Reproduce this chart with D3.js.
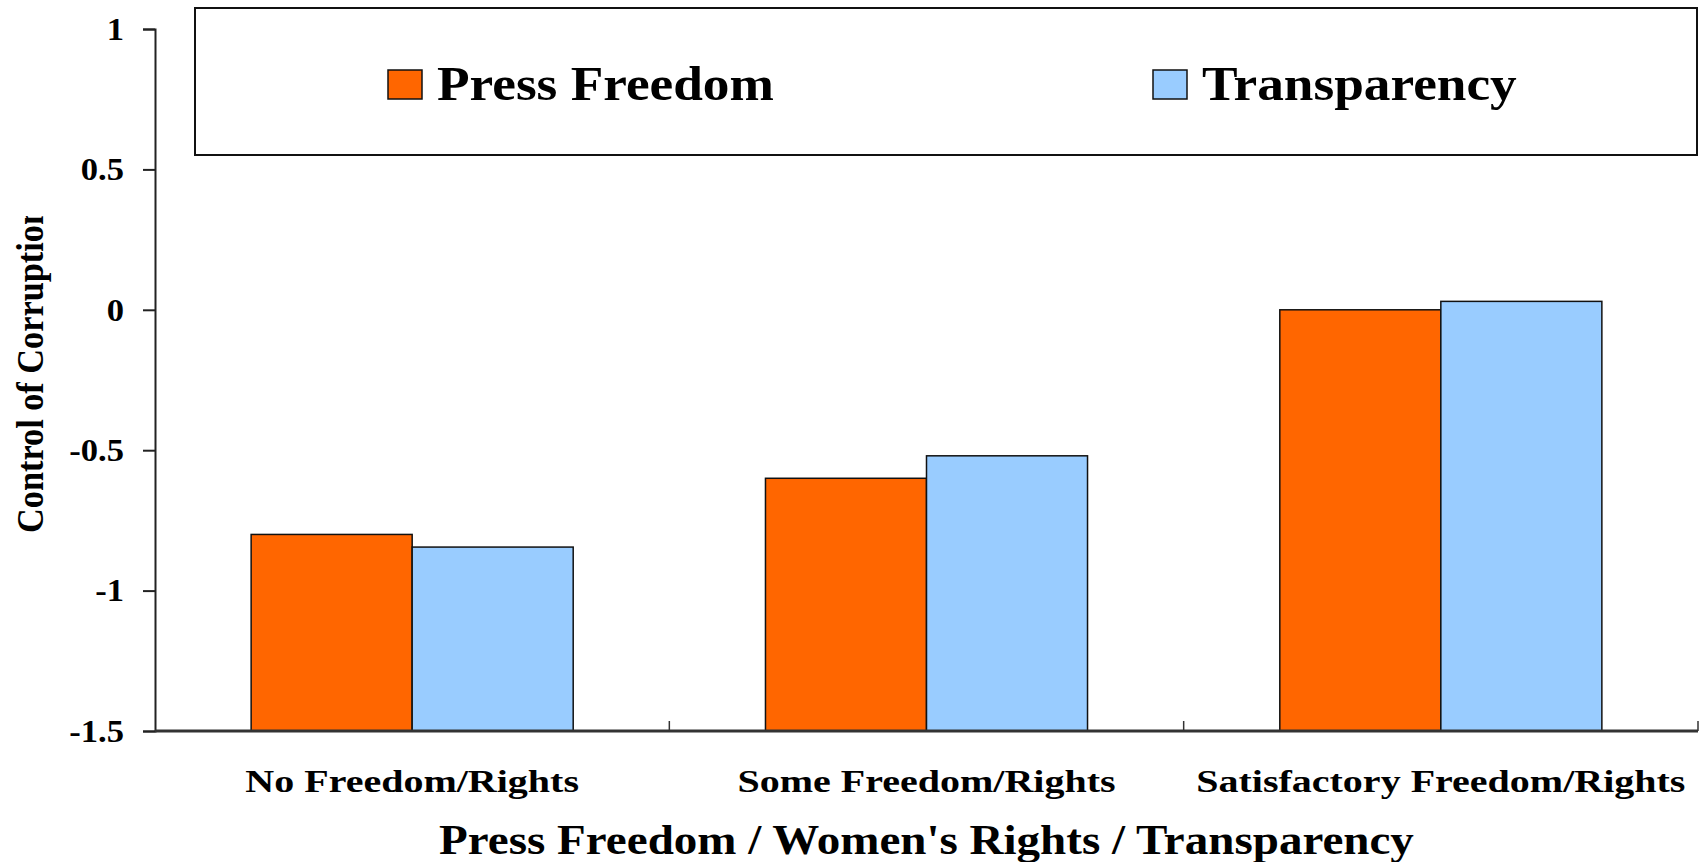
<!DOCTYPE html>
<meta charset="utf-8">
<script src="https://d3js.org/d3.v7.min.js"></script>
<style>
  body { margin: 0; background: #fff; }
  text { font-family: "Liberation Serif", "Times New Roman", serif; font-weight: bold; fill: #000; }
</style>
<div id="chart"></div>
<script>
// data
const categories = ["No Freedom/Rights", "Some Freedom/Rights", "Satisfactory Freedom/Rights"];
const seriesNames = ["Press Freedom", "Transparency"];
const pressFreedom = [-0.80, -0.60, 0.00];
const transparency = [-0.845, -0.52, 0.03];
const yTicks = [-1.5, -1, -0.5, 0, 0.5, 1];
const colors = ["#ff6600", "#99ccff"];

const W = 1706, H = 862;
const margin = {top: 29, right: 8, bottom: 131, left: 155};
const width = W - margin.left - margin.right,
      height = H - margin.top - margin.bottom;

const svg = d3.select("#chart").append("svg")
    .attr("width", W).attr("height", H);
const g = svg.append("g")
    .attr("transform", `translate(${margin.left},${margin.top})`);

// stretch text horizontally (the original is rendered wide)
function stretch(sel, k) {
  sel.each(function() {
    const w = this.getComputedTextLength();
    d3.select(this).attr("textLength", w * k).attr("lengthAdjust", "spacingAndGlyphs");
  });
}

const x0 = d3.scaleBand().domain(categories).range([0, width]).padding(0);
const x1 = d3.scaleBand().domain(seriesNames).range([0, x0.bandwidth()])
    .paddingInner(0).paddingOuter(0.597);
const y = d3.scaleLinear().domain([-1.5, 1]).range([height, 0]);

const rows = categories.map((c, i) => ({cat: c, vals: [pressFreedom[i], transparency[i]]}));

// bars (from the bottom of the axis)
g.append("g").selectAll("g")
  .data(rows).join("g")
    .attr("transform", d => `translate(${x0(d.cat)},0)`)
  .selectAll("rect")
  .data(d => d.vals.map((v, j) => ({name: seriesNames[j], v, j})))
  .join("rect")
    .attr("x", d => x1(d.name))
    .attr("width", x1.bandwidth())
    .attr("y", d => y(d.v))
    .attr("height", d => y(-1.5) - y(d.v))
    .attr("fill", d => colors[d.j])
    .attr("stroke", "#111")
    .attr("stroke-width", 1.5);

// y axis
const yAxis = g.append("g")
  .call(d3.axisLeft(y).tickValues(yTicks).tickFormat(d => String(d)).tickSize(12).tickPadding(19));
yAxis.select(".domain").attr("stroke", "#222").attr("stroke-width", 2);
yAxis.selectAll(".tick line").attr("stroke", "#222").attr("stroke-width", 2);
yAxis.selectAll(".tick text")
    .attr("font-size", 32).attr("font-family", null).attr("fill", "#000");
stretch(yAxis.selectAll(".tick text"), 1.08);

// x axis
const xAxis = g.append("g").attr("transform", `translate(0,${height})`);
xAxis.append("line")
    .attr("x1", 0).attr("x2", width)
    .attr("stroke", "#333").attr("stroke-width", 3);
xAxis.selectAll(".xt")
  .data(categories).join("line")
    .attr("class", "xt")
    .attr("x1", d => x0(d) + x0.bandwidth())
    .attr("x2", d => x0(d) + x0.bandwidth())
    .attr("y1", 0).attr("y2", -10)
    .attr("stroke", "#333").attr("stroke-width", 1.5);
const catLabels = xAxis.selectAll(".xl")
  .data(categories).join("text")
    .attr("class", "xl")
    .attr("x", d => x0(d) + x0.bandwidth() / 2)
    .attr("y", 61)
    .attr("text-anchor", "middle")
    .attr("font-size", 32)
    .text(d => d);
stretch(catLabels, 1.25);

// axis titles
const xTitle = svg.append("text")
    .attr("x", margin.left + width / 2)
    .attr("y", 854)
    .attr("text-anchor", "middle")
    .attr("font-size", 42)
    .text("Press Freedom / Women's Rights / Transparency");
stretch(xTitle, 1.12);

// y title is cut at the top in the original
svg.append("clipPath").attr("id", "yclip")
  .append("rect").attr("x", 0).attr("y", 216).attr("width", 150).attr("height", 500);
svg.append("g")
    .attr("clip-path", "url(#yclip)")
  .append("text")
    .attr("transform", "translate(43,533) rotate(-90)")
    .attr("font-size", 38)
    .attr("textLength", 327)
    .attr("lengthAdjust", "spacingAndGlyphs")
    .text("Control of Corruption");

// legend
const legend = svg.append("g");
legend.append("rect")
    .attr("x", 195).attr("y", 8).attr("width", 1502).attr("height", 147)
    .attr("fill", "#fff").attr("stroke", "#111").attr("stroke-width", 2);
const legendX = [388, 1153];
const items = legend.selectAll(".li")
  .data(seriesNames).join("g")
    .attr("class", "li")
    .attr("transform", (d, i) => `translate(${legendX[i]},70)`);
items.append("rect")
    .attr("width", 34).attr("height", 29)
    .attr("fill", (d, i) => colors[i])
    .attr("stroke", "#111").attr("stroke-width", 1.5);
const lt = items.append("text")
    .attr("x", 49).attr("y", 30)
    .attr("font-size", 48)
    .text(d => d);
stretch(lt, 1.11);
</script>
